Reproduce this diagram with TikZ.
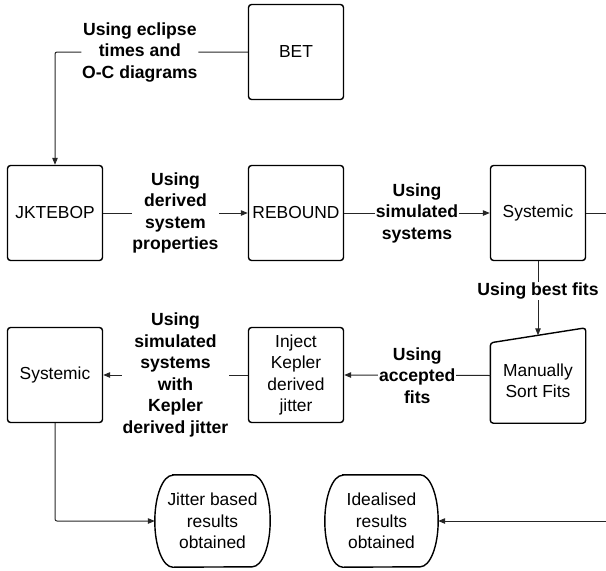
\documentclass[tikz,border=0pt]{standalone}
\usepackage{fontspec}
\setmainfont{Liberation Sans}
\usetikzlibrary{arrows.meta,calc}
\begin{document}
\begin{tikzpicture}[x=1pt,y=-1pt,
 txt/.style={font=\fontsize{17.4}{21.5}\selectfont},
 box/.style={draw, line width=1.4pt, rounded corners=3pt, minimum width=95pt, minimum height=95pt, inner sep=0pt, align=center, txt},
 plainnode/.style={minimum width=#1, minimum height=92pt, inner sep=0pt, align=center, txt},
 lbl/.style={fill=white, inner sep=0.8pt, align=center, font=\fontsize{17.6}{21.5}\selectfont\bfseries},
 conn/.style={line width=1pt, draw=black!85},
 arr/.style={conn, -{Triangle[length=7pt,width=5.5pt]}},
 shp/.style={line width=1.4pt}]
\useasboundingbox (0,0) rectangle (606,571);

% boxes
\node[box] (bet) at (296,52) {BET};
\node[box] (jk) at (55,213) {JKTEBOP};
\node[box] (reb) at (296,213) {REBOUND};
\node[box] (sys1) at (538,213) {Systemic};
\node[box] (inj) at (296,375) {Inject\\Kepler\\derived\\jitter};
\node[box] (sys2) at (55,375) {Systemic};

% manual input shape
\node[minimum width=95pt, minimum height=95pt, inner sep=0pt] (msf) at (538,375.5) {};
\draw[shp, rounded corners=3pt] ([yshift=-15pt]msf.north west) -- (msf.north east) -- (msf.south east) -- (msf.south west) -- cycle;
\node[align=center, txt] (msftext) at (538,381) {Manually\\Sort Fits};
\coordinate (msftop) at ([yshift=-7.5pt]msf.north);

% terminal-like shapes
\node[plainnode=115pt] (jit) at (212.5,521) {Jitter based\\results\\obtained};
\node[plainnode=113pt] (ideal) at (381.5,521) {Idealised\\results\\obtained};
\foreach \n in {jit,ideal}{
  \draw[shp] ([xshift=18pt]\n.north west) -- ([xshift=-18pt]\n.north east)
    arc[start angle=90,end angle=-90,x radius=18pt,y radius=46pt]
    -- ([xshift=18pt]\n.south west)
    arc[start angle=270,end angle=90,x radius=18pt,y radius=46pt] -- cycle;
}

% free ends at the right border
\coordinate (rout) at (606,213);
\coordinate (rin) at (606,521);

% connectors
\draw[arr, rounded corners=2pt] (bet.west) -- node[lbl,pos=0.56]{Using eclipse\\times and\\O-C diagrams} (jk.north |- bet.west) -- (jk.north);
\draw[arr] (jk.east) -- node[lbl]{Using\\derived\\system\\properties} (reb.west);
\draw[arr] (reb.east) -- node[lbl]{Using\\simulated\\systems} (sys1.west);
\draw[conn] (sys1.east) -- (rout);
\draw[arr] (sys1.south) -- node[lbl,pos=0.4]{Using best fits} (msftop);
\draw[arr] (msf.west) -- node[lbl]{Using\\accepted\\fits} (inj.east);
\draw[arr] (inj.west) -- node[lbl]{Using\\simulated\\systems\\with\\Kepler\\derived jitter} (sys2.east);
\draw[arr, rounded corners=2pt] (sys2.south) |- (jit.west);
\draw[arr] (rin) -- (ideal.east);
\end{tikzpicture}
\end{document}
